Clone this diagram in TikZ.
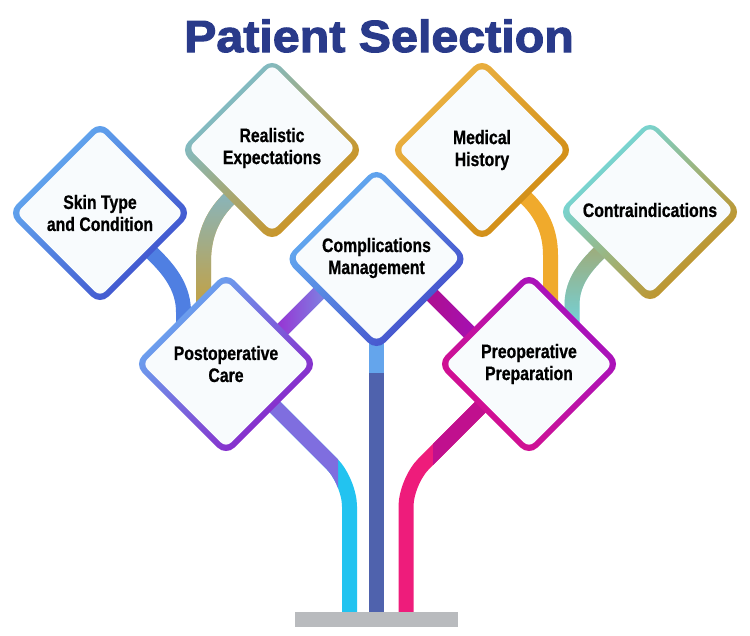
\documentclass[tikz,border=0pt]{standalone}
\usepackage{fontspec}
\setmainfont{Liberation Sans}
\newfontfamily\lblfont[FakeStretch=0.81,FakeBold=0.7]{Liberation Sans}
\newfontfamily\titlefont[FakeStretch=1.075,FakeBold=2.4]{Liberation Sans}
\usetikzlibrary{shapes.geometric,fadings,calc}
\pgfdeclarelayer{bg}
\pgfsetlayers{bg,main}
\tikzfading[name=opaquetop, top color=transparent!0, bottom color=transparent!100]
\tikzfading[name=opaqueleft, left color=transparent!0, right color=transparent!100]
\definecolor{titleblue}{HTML}{293A8A}
\definecolor{innerfill}{HTML}{F8FBFD}
\definecolor{baseg}{HTML}{B9BBBE}
\definecolor{sknA}{HTML}{66B0F2}\definecolor{sknB}{HTML}{3D4CCB}
\definecolor{relA}{HTML}{74C2E0}\definecolor{relB}{HTML}{D88E0A}
\definecolor{medA}{HTML}{EDB446}\definecolor{medB}{HTML}{CE8A12}
\definecolor{conA}{HTML}{6AE0F0}\definecolor{conB}{HTML}{CC8A10}
\definecolor{cmpA}{HTML}{66B4F4}\definecolor{cmpB}{HTML}{4249C9}
\definecolor{posA}{HTML}{66B4F4}\definecolor{posB}{HTML}{8C19C6}
\definecolor{preA}{HTML}{A212C2}\definecolor{preB}{HTML}{D8108A}
\definecolor{skinbr}{HTML}{4F7FE2}
\definecolor{relTop}{HTML}{80B8CE}\definecolor{relBot}{HTML}{D49C22}
\definecolor{medbr}{HTML}{F0AA2C}
\definecolor{conTop}{HTML}{A8A466}\definecolor{conBot}{HTML}{6CD8E8}
\definecolor{pbL}{HTML}{A01CD0}\definecolor{pbR}{HTML}{72A8E8}
\definecolor{mbL}{HTML}{B40E7E}\definecolor{mbR}{HTML}{A012C4}
\definecolor{llPurple}{HTML}{7F6EDF}\definecolor{llCyan}{HTML}{22C3F0}
\definecolor{lrMag}{HTML}{C0108E}\definecolor{lrPink}{HTML}{EE1C7B}
\definecolor{stemLight}{HTML}{64A5EC}\definecolor{stemDark}{HTML}{4F62AD}
\begin{document}
\begin{tikzpicture}[x=1pt,y=-1pt,
  dout/.style={diamond, aspect=1, minimum size=184pt, inner sep=0pt, outer sep=0pt, rounded corners=12pt},
  din/.style={diamond, aspect=1, minimum size=167pt, inner sep=0pt, outer sep=0pt, rounded corners=7pt, fill=innerfill, text=black, align=center, font=\lblfont\bfseries\fontsize{19.5}{22}\selectfont},
  br/.style={line width=15pt, line join=round}]
\useasboundingbox (0,0) rectangle (750,635);
% title
\node[anchor=base, text=titleblue, inner sep=0pt, font=\titlefont\bfseries\fontsize{45}{54}\selectfont] (title) at (379,52) {Patient Selection};
% diamonds
\node[dout, top color=sknA, bottom color=sknB, shading angle=45] (skinb) at (100,213) {};
\node[din] (skin) at (100,213) {Skin Type\\and Condition};
\node[dout, top color=relA, bottom color=relB, shading angle=45] (realb) at (272,150) {};
\node[din] (real) at (272,148) {Realistic\\Expectations};
\node[dout, top color=medA, bottom color=medB, shading angle=45] (medb) at (482,150) {};
\node[din] (med) at (482,150) {Medical\\History};
\node[dout, top color=conA, bottom color=conB, shading angle=45] (contrab) at (650,212) {};
\node[din] (contra) at (650,210) {Contraindications};
\node[dout, top color=cmpA, bottom color=cmpB, shading angle=45] (complb) at (376.5,259) {};
\node[din] (compl) at (376.5,258) {Complications\\Management};
\node[dout, top color=posA, bottom color=posB, shading angle=45] (postopb) at (226,364) {};
\node[din] (postop) at (226,364) {Postoperative\\Care};
\node[dout, top color=preA, bottom color=preB, shading angle=-45] (preopb) at (529,364) {};
\node[din] (preop) at (529,364) {Preoperative\\Preparation};
% base
\node[fill=baseg, minimum width=163pt, minimum height=15pt, inner sep=0pt, outer sep=0pt, anchor=north west] (base) at (295,612) {};
% connectors
\begin{pgfonlayer}{bg}
\draw[br, skinbr] ($(skin)+(41,29)$) -- (156,257) .. controls (172,273) and (183.5,290) .. (183.5,312) -- ($(postop)+(-42.5,-29)$);
\draw[br, relBot] ($(real)+(-27,35)$) -- (228,200) .. controls (212,216) and (203.5,236) .. (203.5,262) -- ($(postop)+(-22.5,-34)$);
\draw[br, relTop, path fading=opaquetop] ($(real)+(-27,35)$) -- (228,200) .. controls (212,216) and (203.5,236) .. (203.5,262) -- ($(postop)+(-22.5,-34)$);
\draw[br, medbr] ($(med)+(28,32)$) -- (528,200) .. controls (542,214) and (550.5,232) .. (550.5,255) -- ($(preop)+(21.5,-54)$);
\draw[br, conBot] ($(contra)+(-35,27)$) -- (597,255) .. controls (582,270) and (572,285) .. (572,305) -- ($(preop)+(43,-34)$);
\draw[br, conTop, path fading=opaquetop] ($(contra)+(-35,27)$) -- (597,255) .. controls (582,270) and (572,285) .. (572,305) -- ($(preop)+(43,-34)$);
\draw[br, pbR] ($(postop)+(44,-22)$) -- ($(compl)+(-36.5,14)$);
\draw[br, pbL, path fading=opaqueleft] ($(postop)+(44,-22)$) -- ($(compl)+(-36.5,14)$);
\draw[br, mbR] ($(compl)+(33.5,15)$) -- ($(preop)+(-39,-11)$);
\draw[br, mbL, path fading=opaqueleft] ($(compl)+(33.5,15)$) -- ($(preop)+(-39,-11)$);
\draw[br, stemDark] (compl) -- ($(base.north west)+(81.5,7)$);
\draw[br, stemLight] (compl) -- (376.5,373);
\draw[br, llCyan, rounded corners=25pt] ($(postop)+(24,18)$) -- (349.5,481.5) -- ($(base.north west)+(54.5,7)$);
\begin{scope}
\clip (0,0) rectangle (338,635);
\draw[br, llPurple, rounded corners=25pt] ($(postop)+(24,18)$) -- (349.5,481.5) -- ($(base.north west)+(54.5,7)$);
\end{scope}
\draw[br, lrPink, rounded corners=25pt] ($(preop)+(-23,17.5)$) -- (406,481.5) -- ($(base.north west)+(111,7)$);
\begin{scope}
\clip (433,0) rectangle (750,635);
\draw[br, lrMag, rounded corners=25pt] ($(preop)+(-23,17.5)$) -- (406,481.5) -- ($(base.north west)+(111,7)$);
\end{scope}
\end{pgfonlayer}
\end{tikzpicture}
\end{document}
